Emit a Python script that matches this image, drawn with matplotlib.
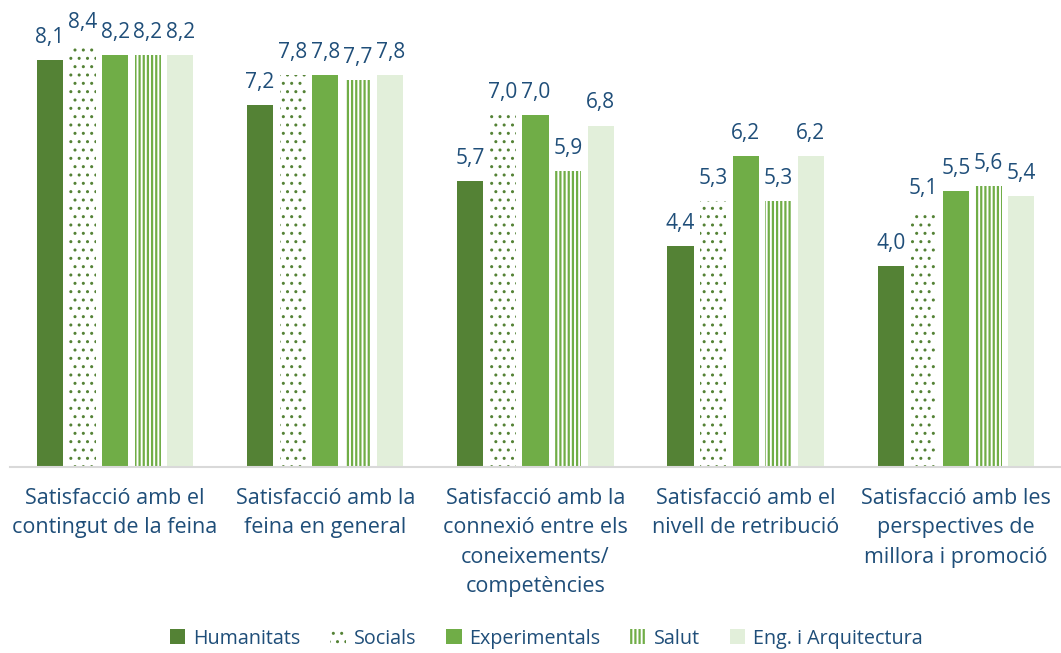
import matplotlib
matplotlib.use("Agg")
import matplotlib.pyplot as plt
import numpy as np

plt.rcParams['font.family'] = ['Open Sans', 'DejaVu Sans']
plt.rcParams['hatch.linewidth'] = 1.6

categories = ["Satisfacció amb el\ncontingut de la feina",
              "Satisfacció amb la\nfeina en general",
              "Satisfacció amb la\nconnexió entre els\nconeixements/\ncompetències",
              "Satisfacció amb el\nnivell de retribució",
              "Satisfacció amb les\nperspectives de\nmillora i promoció"]
series = ["Humanitats", "Socials", "Experimentals", "Salut", "Eng. i Arquitectura"]
humanitats = [8.1, 7.2, 5.7, 4.4, 4.0]
socials = [8.4, 7.8, 7.0, 5.3, 5.1]
experimentals = [8.2, 7.8, 7.0, 6.2, 5.5]
salut = [8.2, 7.7, 5.9, 5.3, 5.6]
eng = [8.2, 7.8, 6.8, 6.2, 5.4]
values = [humanitats, socials, experimentals, salut, eng]

styles = [
    dict(color="#548235", hatch=None, edgecolor="none", hlw=1.6),
    dict(color="white", hatch="..", edgecolor="#548235", hlw=1.0),
    dict(color="#70AD47", hatch=None, edgecolor="none", hlw=1.6),
    dict(color="white", hatch="||||", edgecolor="#70AD47", hlw=1.6),
    dict(color="#E2EFDA", hatch=None, edgecolor="none", hlw=1.6),
]
txt = "#1F4E79"

fig = plt.figure(figsize=(10.61, 6.53), dpi=100)
ax = fig.add_axes([0.0094, 0.285, 0.9906, 0.715])
x = np.arange(len(categories))
w = 0.124
step = 0.155
for i, (name, vals, st) in enumerate(zip(series, values, styles)):
    xs = x + (i - 2) * step
    bars = ax.bar(xs, vals, w, color=st["color"], hatch=st["hatch"],
                  edgecolor=st["edgecolor"], linewidth=0, label=name)
    for b in bars:
        try:
            b.set_hatch_linewidth(st["hlw"])
        except AttributeError:
            pass
    for xx, v in zip(xs, vals):
        ax.text(xx, v + 0.24, f"{v:.1f}".replace(".", ","), ha="center", va="bottom",
                fontsize=15, color=txt)

ax.set_xlim(-0.5, 4.5)
ax.set_ylim(0, 9.3)
ax.set_yticks([])
for s in ["top", "right", "left"]:
    ax.spines[s].set_visible(False)
ax.spines["bottom"].set_color("#D9D9D9")
ax.spines["bottom"].set_linewidth(1.5)
ax.set_xticks(x)
ax.set_xticklabels(categories, fontsize=15.5, color=txt, linespacing=1.53, va="top")
ax.tick_params(axis="x", length=0, pad=15)

leg = fig.legend(loc="center", bbox_to_anchor=(0.515, 0.022), ncol=5, frameon=False,
                 fontsize=14.2, handlelength=0.8, handleheight=0.8, handletextpad=0.4,
                 columnspacing=1.5)
for t in leg.get_texts():
    t.set_color(txt)
for h, st in zip(leg.legend_handles, styles):
    try:
        h.set_hatch_linewidth(st["hlw"])
    except AttributeError:
        pass

fig.savefig("out.png", dpi=100)
